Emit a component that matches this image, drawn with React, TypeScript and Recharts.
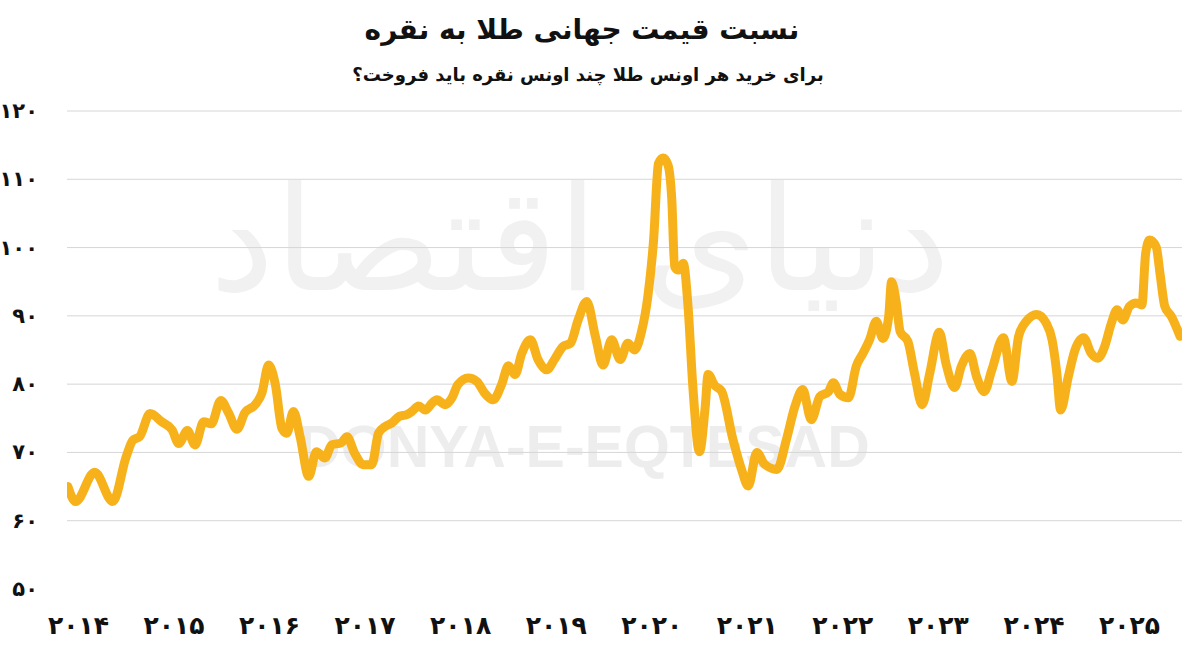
import React from 'react';
import { LineChart, Line, XAxis, YAxis, CartesianGrid } from 'recharts';

// decimal-year positions of the read points
const years = [
  2013.89, 2013.97, 2014.17, 2014.36, 2014.5, 2014.57, 2014.64, 2014.75, 2014.87, 2014.98,
  2015.05, 2015.14, 2015.22, 2015.31, 2015.39, 2015.49, 2015.57, 2015.66, 2015.74, 2015.85,
  2015.92, 2015.99, 2016.06, 2016.13, 2016.18, 2016.25, 2016.32, 2016.41, 2016.49, 2016.58,
  2016.65, 2016.75, 2016.81, 2016.89, 2016.98, 2017.07, 2017.14, 2017.21, 2017.28, 2017.36,
  2017.43, 2017.49, 2017.56, 2017.63, 2017.7, 2017.75, 2017.84, 2017.91, 2017.97, 2018.08,
  2018.17, 2018.25, 2018.34, 2018.43, 2018.5, 2018.57, 2018.64, 2018.73, 2018.81, 2018.9,
  2018.99, 2019.07, 2019.15, 2019.23, 2019.32, 2019.41, 2019.49, 2019.58, 2019.67, 2019.75,
  2019.82, 2019.89, 2019.96, 2020.02, 2020.07, 2020.12, 2020.17, 2020.21, 2020.24, 2020.28,
  2020.33, 2020.38, 2020.43, 2020.5, 2020.56, 2020.59, 2020.66, 2020.73, 2020.85, 2020.94,
  2021.01, 2021.1, 2021.18, 2021.31, 2021.41, 2021.5, 2021.58, 2021.67, 2021.76, 2021.85,
  2021.9, 2021.97, 2022.06, 2022.14, 2022.21, 2022.28, 2022.35, 2022.42, 2022.48, 2022.51,
  2022.56, 2022.6, 2022.68, 2022.75, 2022.83, 2022.91, 2023.01, 2023.08, 2023.17, 2023.24,
  2023.33, 2023.4, 2023.48, 2023.56, 2023.68, 2023.77, 2023.84, 2023.92, 2024.03, 2024.13,
  2024.19, 2024.24, 2024.28, 2024.36, 2024.43, 2024.52, 2024.6, 2024.67, 2024.74, 2024.81,
  2024.87, 2024.93, 2025.0, 2025.07, 2025.13, 2025.17, 2025.21, 2025.28, 2025.32, 2025.37,
  2025.44, 2025.53,
];

// gold / silver ratio
const ratio = [
  65.0, 62.8, 67.1, 62.8, 69.4, 71.8, 72.3, 75.7, 74.5, 73.3,
  71.3, 73.2, 71.1, 74.5, 74.2, 77.6, 75.8, 73.4, 75.8, 77.0,
  78.7, 82.8, 80.0, 73.5, 72.8, 76.0, 72.3, 66.5, 70.1, 69.2,
  71.1, 71.4, 72.3, 69.9, 68.2, 68.2, 72.8, 73.8, 74.3, 75.3,
  75.5, 76.0, 76.8, 76.2, 77.2, 77.7, 77.0, 78.0, 79.9, 80.9,
  80.4, 78.7, 77.7, 80.0, 82.7, 81.4, 84.5, 86.5, 83.6, 82.1,
  83.8, 85.5, 86.0, 89.4, 92.1, 87.0, 82.8, 86.5, 83.6, 86.0,
  85.0, 87.5, 92.9, 101.2, 112.3, 113.1, 112.1, 107.0, 97.2, 96.7,
  97.7, 91.4, 79.7, 70.1, 76.7, 81.4, 79.8, 79.0, 71.9, 67.5,
  65.1, 70.0, 68.3, 67.5, 71.9, 76.8, 79.2, 74.8, 78.2, 78.9,
  80.2, 78.5, 78.0, 82.6, 84.5, 86.5, 89.2, 86.7, 89.9, 95.0,
  91.9, 87.7, 86.3, 81.6, 77.0, 81.6, 87.6, 83.0, 79.5, 82.6,
  84.5, 81.1, 78.9, 82.1, 86.8, 80.4, 87.0, 89.2, 90.2, 88.9,
  86.5, 81.6, 76.2, 81.1, 85.0, 86.8, 84.5, 83.8, 85.5, 88.9,
  90.9, 89.4, 91.4, 91.9, 91.6, 99.2, 101.1, 100.1, 96.2, 91.4,
  89.9, 87.0,
];

const yTicks = [50, 60, 70, 80, 90, 100, 110, 120];
const yTickLabels = ['۵۰', '۶۰', '۷۰', '۸۰', '۹۰', '۱۰۰', '۱۱۰', '۱۲۰'];
const gridValues = [60, 70, 80, 90, 100, 110, 120];
const xTicks = [2014, 2015, 2016, 2017, 2018, 2019, 2020, 2021, 2022, 2023, 2024, 2025];
const xTickLabels = ['۲۰۱۴', '۲۰۱۵', '۲۰۱۶', '۲۰۱۷', '۲۰۱۸', '۲۰۱۹', '۲۰۲۰', '۲۰۲۱', '۲۰۲۲', '۲۰۲۳', '۲۰۲۴', '۲۰۲۵'];

const title = 'نسبت قیمت جهانی طلا به نقره';
const subtitle = 'برای خرید هر اونس طلا چند اونس نقره باید فروخت؟';

const data = years.map((t, i) => ({ t, v: ratio[i] }));

const FONT = '"DejaVu Sans", "Noto Sans", sans-serif';

const YTick = (props: any) => {
  const { y, payload } = props;
  const idx = yTicks.indexOf(payload.value);
  return (
    <text x={38} y={y} textAnchor="end" dominantBaseline="central" fontSize={21} fontWeight="bold" fontFamily={FONT} fill="#111">
      {yTickLabels[idx]}
    </text>
  );
};

const XTick = (props: any) => {
  const { x, payload } = props;
  const idx = xTicks.indexOf(payload.value);
  return (
    <text x={x} y={625} textAnchor="middle" dominantBaseline="central" fontSize={25} fontWeight="bold" fontFamily={FONT} fill="#111">
      {xTickLabels[idx]}
    </text>
  );
};

export default function App() {
  return (
    <div style={{ position: 'absolute', left: 0, top: 0, width: 1200, height: 662, background: '#fff', overflow: 'hidden' }}>
      <svg width={1200} height={662} style={{ position: 'absolute', left: 0, top: 0 }}>
        <text x={580} y={290} textAnchor="middle" fontSize={145} fontFamily={FONT} fill="#f1f1f1" direction="rtl">
          دنیای اقتصاد
        </text>
        <text x={584} y={467} textAnchor="middle" fontSize={59} fontWeight="bold" fontFamily='"Liberation Sans", Arial, sans-serif' fill="#ededed">
          DONYA-E-EQTESAD
        </text>
      </svg>
      <div dir="rtl" style={{ position: 'absolute', left: 0, top: 10, width: 1164, textAlign: 'center', fontFamily: FONT, fontWeight: 'bold', fontSize: 28, color: '#111', lineHeight: '40px' }}>
        {title}
      </div>
      <div dir="rtl" style={{ position: 'absolute', left: 0, top: 62, width: 1176, textAlign: 'center', fontFamily: FONT, fontWeight: 'bold', fontSize: 18, color: '#111', lineHeight: '26px' }}>
        {subtitle}
      </div>
      <div style={{ position: 'absolute', left: 0, top: 0 }}>
        <LineChart width={1200} height={662} data={data} margin={{ top: 111, right: 18, bottom: 33, left: 7 }}>
          <CartesianGrid vertical={false} stroke="#d6d6d6" strokeWidth={1} horizontalValues={gridValues} />
          <XAxis
            dataKey="t"
            type="number"
            domain={[2013.88, 2025.55]}
            ticks={xTicks}
            tick={<XTick />}
            axisLine={false}
            tickLine={false}
            height={40}
            allowDataOverflow
          />
          <YAxis
            type="number"
            domain={[50, 120]}
            ticks={yTicks}
            tick={<YTick />}
            axisLine={false}
            tickLine={false}
            width={60}
            allowDataOverflow
          />
          <Line
            type="monotone"
            dataKey="v"
            stroke="#F7B21B"
            strokeWidth={9}
            strokeLinecap="round"
            strokeLinejoin="round"
            dot={false}
            activeDot={false}
            isAnimationActive={false}
          />
        </LineChart>
      </div>
    </div>
  );
}
